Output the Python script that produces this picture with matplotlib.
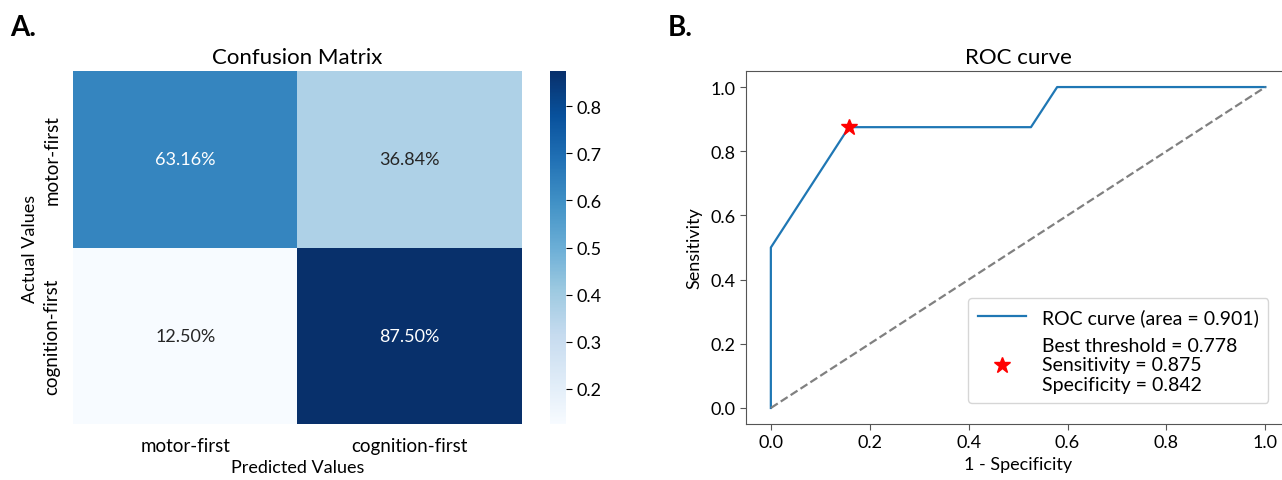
import numpy as np
import matplotlib
matplotlib.use("Agg")
import matplotlib.pyplot as plt
import seaborn as sns

plt.rcParams['font.family'] = ['Lato', 'DejaVu Sans']

# Confusion matrix data (row-normalized)
classes = ["motor-first", "cognition-first"]
cm_values = [[0.6316, 0.3684],
             [0.1250, 0.8750]]
cm_labels = [["63.16%", "36.84%"],
             ["12.50%", "87.50%"]]
cbar_ticks = [0.2, 0.3, 0.4, 0.5, 0.6, 0.7, 0.8]

# ROC data
fpr = [0.0, 0.0, 0.158, 0.526, 0.579, 1.0]
tpr = [0.0, 0.5, 0.875, 0.875, 1.0, 1.0]
best_fpr = 0.158
best_tpr = 0.875
auc_val = 0.901
best_thr = 0.778
sens = 0.875
spec = 0.842
roc_ticks = [0.0, 0.2, 0.4, 0.6, 0.8, 1.0]

fig = plt.figure(figsize=(12.82, 4.81), dpi=100)

ax1 = fig.add_axes([0.057, 0.1164, 0.350, 0.7339])
cax = fig.add_axes([0.429, 0.1164, 0.0125, 0.7339])
sns.heatmap(np.array(cm_values), annot=np.array(cm_labels), fmt="", cmap="Blues",
            ax=ax1, cbar_ax=cax, xticklabels=classes, yticklabels=classes,
            annot_kws={"fontsize": 13})
ax1.set_title("Confusion Matrix", fontsize=16, pad=6)
ax1.set_xlabel("Predicted Values", fontsize=13, labelpad=4)
ax1.set_ylabel("Actual Values", fontsize=13, labelpad=4)
ax1.tick_params(axis='both', length=0, labelsize=13.5, pad=9)
ax1.set_yticklabels(classes, rotation=90, va='center')
cax.set_yticks(cbar_ticks)
cax.tick_params(labelsize=13, length=4)
for s in cax.spines.values():
    s.set_visible(False)

ax2 = fig.add_axes([0.582, 0.1164, 0.4243, 0.7339])
ax2.plot(fpr, tpr, color="#1f77b4", lw=1.6, label=f"ROC curve (area = {auc_val:.3f})")
ax2.plot([0, 1], [0, 1], color="gray", lw=1.6, ls="--")
ax2.plot([best_fpr], [best_tpr], marker="*", color="red", markersize=12, ls="none",
         label=f"Best threshold = {best_thr:.3f}\nSensitivity = {sens:.3f}\nSpecificity = {spec:.3f}")
ax2.set_xlim(-0.05, 1.05)
ax2.set_ylim(-0.05, 1.05)
ax2.set_xticks(roc_ticks)
ax2.set_yticks(roc_ticks)
ax2.tick_params(labelsize=13, length=4, color="#555555")
ax2.set_title("ROC curve", fontsize=16, pad=6)
ax2.set_xlabel("1 - Specificity", fontsize=13, labelpad=4)
ax2.set_ylabel("Sensitivity", fontsize=13, labelpad=6)
for s in ax2.spines.values():
    s.set_color("#555555")
leg = ax2.legend(loc="lower right", bbox_to_anchor=(0.997, 0.14), bbox_transform=fig.transFigure,
                 fontsize=14, handlelength=2.5, borderpad=0.5, labelspacing=0.55)

fig.text(0.008, 0.925, "A.", fontsize=20, fontweight="bold")
fig.text(0.521, 0.925, "B.", fontsize=20, fontweight="bold")

fig.savefig("out.png", dpi=100)
